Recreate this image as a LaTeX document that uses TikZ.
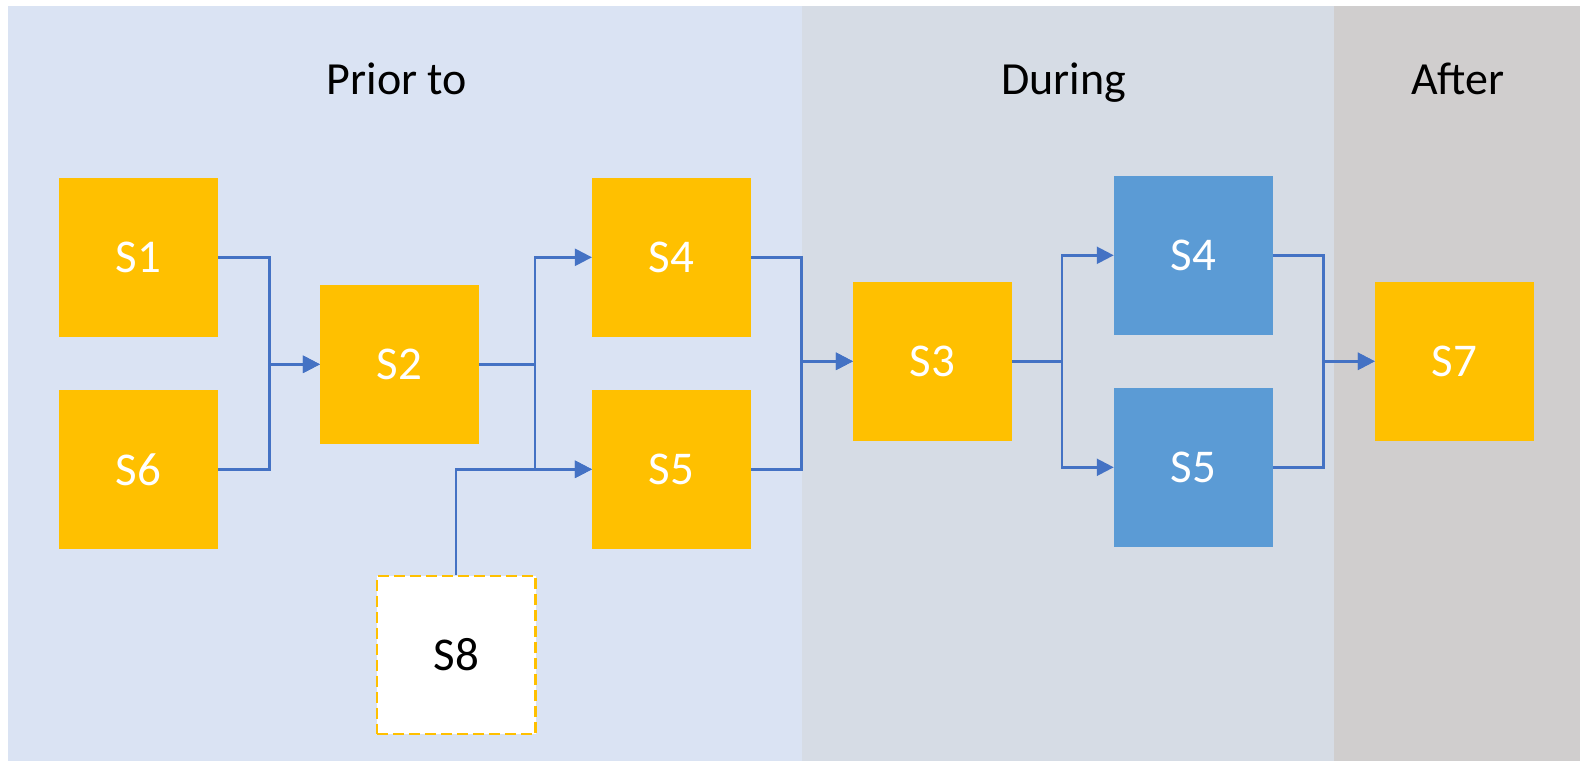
\documentclass[tikz,border=0pt]{standalone}
\usepackage{fontspec}
\setmainfont{Carlito}
\usetikzlibrary{arrows.meta}
\definecolor{priorbg}{HTML}{DAE3F3}
\definecolor{duringbg}{HTML}{D6DCE5}
\definecolor{afterbg}{HTML}{D0CECE}
\definecolor{orangebox}{HTML}{FFC000}
\definecolor{bluebox}{HTML}{5B9BD5}
\definecolor{connblue}{HTML}{4472C4}
\tikzset{
  box/.style={rectangle, inner sep=0pt, minimum width=158.7pt, minimum height=158.7pt,
    font=\fontsize{47}{55}\selectfont},
  obox/.style={box, fill=orangebox, text=white},
  bbox/.style={box, fill=bluebox, text=white},
  dbox/.style={box, fill=white, draw=orangebox, line width=2.2pt, dash pattern=on 11pt off 5pt, text=black},
  conn/.style={draw=connblue, line width=2.4pt, -{Triangle[length=17pt,width=17pt]}},
  title/.style={anchor=base, font=\fontsize{46}{55}\selectfont, text=black}
}
\begin{document}
\begin{tikzpicture}[x=1pt,y=-1pt]
\useasboundingbox (0,0) rectangle (1580,761);
\fill[white] (0,0) rectangle (1580,761);
\fill[priorbg] (8,6) rectangle (802,761);
\fill[duringbg] (802,6) rectangle (1334,761);
\fill[afterbg] (1334,6) rectangle (1580,761);

\node[title] (tprior) at (397,94.3) {Prior to};
\node[title] (tduring) at (1063.7,94.3) {During};
\node[title] (tafter) at (1458,94.3) {After};

\node[obox] (S1) at (138.6,257.3) {S1};
\node[obox] (S6) at (138.6,469.3) {S6};
\node[obox] (S2) at (399.5,364.3) {S2};
\node[obox] (S4o) at (671.5,257.3) {S4};
\node[obox] (S5o) at (671.5,469.3) {S5};
\node[dbox] (S8) at (456.2,655) {S8};
\node[obox] (S3) at (932.5,361.3) {S3};
\node[bbox] (S4b) at (1193.3,255.3) {S4};
\node[bbox] (S5b) at (1193.3,467.3) {S5};
\node[obox] (S7) at (1454.3,361.3) {S7};

\coordinate (j1) at (269.3,0);
\coordinate (j2) at (535,0);
\coordinate (j3) at (801.3,0);
\coordinate (j4) at (1062,0);
\coordinate (j5) at (1323.5,0);

\draw[conn] (S1.east) -- (S1.east -| j1) |- (S2.west);
\draw[conn] (S6.east) -- (S6.east -| j1) |- (S2.west);
\draw[conn] (S2.east) -- (S2.east -| j2) |- (S4o.west);
\draw[conn] (S2.east) -- (S2.east -| j2) |- (S5o.west);
\draw[conn] (S8.north) |- (S5o.west);
\draw[conn] (S4o.east) -- (S4o.east -| j3) |- (S3.west);
\draw[conn] (S5o.east) -- (S5o.east -| j3) |- (S3.west);
\draw[conn] (S3.east) -- (S3.east -| j4) |- (S4b.west);
\draw[conn] (S3.east) -- (S3.east -| j4) |- (S5b.west);
\draw[conn] (S4b.east) -- (S4b.east -| j5) |- (S7.west);
\draw[conn] (S5b.east) -- (S5b.east -| j5) |- (S7.west);
\end{tikzpicture}
\end{document}
